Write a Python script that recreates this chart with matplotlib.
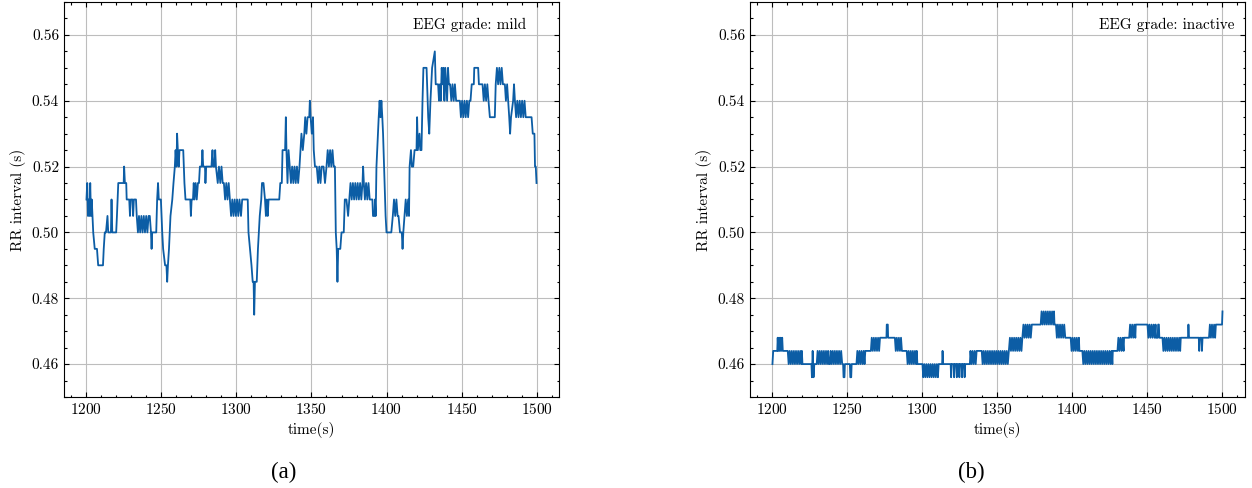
import numpy as np
import matplotlib
matplotlib.use("Agg")
import matplotlib.pyplot as plt
from matplotlib.ticker import MultipleLocator, FormatStrFormatter

# RR intervals: (time in s, RR in ms)
mild_pts = [
    (1200, 510), (1200.5, 515), (1201, 505), (1201.5, 510), (1202, 505), (1202.5, 515), (1203, 505),
    (1203.5, 510), (1204, 505), (1204.5, 500), (1205.5, 495), (1207, 495), (1207.8, 490), (1211, 490),
    (1211.5, 495), (1212.2, 500), (1213, 500), (1214, 505), (1214.5, 500), (1216.3, 500), (1216.7, 510),
    (1217.2, 500), (1219.8, 500), (1220.3, 505), (1221.2, 515), (1224.8, 515), (1225.1, 520), (1225.6, 515),
    (1226.5, 515), (1226.8, 510), (1228.5, 510), (1229, 505), (1229.5, 510), (1230.7, 510), (1231.1, 505),
    (1231.6, 510), (1233, 510), (1233.5, 505), (1234.3, 500), (1235, 505), (1235.8, 500), (1236.6, 505),
    (1237.4, 500), (1238.2, 505), (1239, 500), (1239.8, 505), (1240.6, 500), (1241.4, 505), (1242.2, 505),
    (1243, 500), (1243.4, 495), (1243.8, 500), (1246.5, 500), (1247.1, 510), (1247.7, 515), (1248.2, 510),
    (1249.6, 510), (1250.5, 500), (1251.1, 495), (1252.4, 490), (1253.3, 490), (1253.8, 485), (1254.3, 490),
    (1255, 495), (1256, 505), (1257.2, 510), (1258, 515), (1258.9, 520), (1259.4, 525), (1260, 520),
    (1260.4, 530), (1260.9, 525), (1261.5, 520), (1262, 525), (1264.5, 525), (1265.3, 515), (1266, 510),
    (1269.2, 510), (1269.6, 505), (1270.1, 510), (1271, 510), (1271.5, 515), (1272, 510), (1272.8, 515),
    (1273.5, 510), (1274.3, 515), (1275, 515), (1275.6, 520), (1276.8, 520), (1277.3, 525), (1277.8, 520),
    (1279, 520), (1279.3, 515), (1279.8, 520), (1283.3, 520), (1284, 525), (1284.5, 520), (1285.3, 520),
    (1285.8, 525), (1286.3, 520), (1287.5, 515), (1288.3, 520), (1289.2, 515), (1290, 520), (1290.8, 515),
    (1291.6, 515), (1292.4, 510), (1293.2, 515), (1294, 510), (1294.8, 515), (1295.6, 510), (1296.4, 505),
    (1297.2, 510), (1298, 505), (1298.8, 510), (1299.6, 505), (1300.4, 510), (1301.2, 505), (1302, 510),
    (1303, 505), (1303.8, 510), (1307.5, 510), (1308, 500), (1309, 495), (1310, 490), (1310.8, 485),
    (1311.4, 485), (1311.8, 475), (1312.3, 485), (1313.5, 485), (1314.3, 495), (1315.5, 505), (1316.5, 510),
    (1317, 515), (1318, 515), (1319, 510), (1319.6, 505), (1320.2, 510), (1320.8, 505), (1321.4, 510),
    (1328.5, 510), (1329.2, 515), (1330.2, 515), (1330.7, 525), (1332.4, 525), (1332.9, 535),
    (1333.3, 525), (1334, 515), (1334.7, 525), (1335.5, 520), (1336.3, 515), (1337.1, 520), (1337.9, 515),
    (1338.7, 520), (1339.5, 515), (1340.3, 520), (1341.1, 515), (1342, 520), (1343.3, 530), (1344.2, 525),
    (1345.2, 530), (1345.8, 535), (1346.6, 530), (1347.4, 535), (1348.5, 535), (1348.9, 540), (1349.4, 535),
    (1350.2, 530), (1351, 535), (1351.5, 525), (1352.3, 520), (1353.5, 520), (1354.4, 515), (1355.2, 520),
    (1356, 515), (1356.8, 520), (1358, 520), (1359, 515), (1360, 520), (1360.8, 525), (1361.6, 520),
    (1362.4, 525), (1363.2, 520), (1364, 525), (1364.8, 520), (1365.6, 520), (1366.2, 500), (1366.8, 495),
    (1367.3, 485), (1367.8, 495), (1369.2, 495), (1370, 500), (1371.5, 500), (1372.2, 510), (1373.3, 510),
    (1374.4, 505), (1375.2, 510), (1376, 515), (1376.8, 510), (1377.6, 515), (1378.4, 510), (1379.2, 515),
    (1380, 510), (1380.8, 515), (1381.6, 510), (1382.4, 515), (1383.2, 510), (1384, 515), (1384.4, 520),
    (1384.9, 515), (1385.6, 510), (1386.4, 515), (1387.2, 510), (1388, 515), (1388.8, 510), (1390.6, 510),
    (1391, 505), (1392, 505), (1392.3, 510), (1392.8, 505), (1393.3, 520), (1394.3, 530), (1394.8, 535),
    (1395.4, 540), (1396, 535), (1396.6, 540), (1397.2, 535), (1397.7, 530), (1398.7, 515), (1399.4, 505),
    (1400, 500), (1403.2, 500), (1404.2, 505), (1405, 510), (1405.8, 505), (1406.6, 510), (1407.4, 505),
    (1408, 505), (1409, 500), (1410.2, 500), (1410.7, 495), (1411.2, 500), (1412, 505), (1412.8, 510),
    (1413.6, 505), (1414.4, 510), (1415, 505), (1415.4, 520), (1416.3, 525), (1416.9, 520), (1417.8, 520),
    (1418.7, 525), (1420, 525), (1420.4, 535), (1420.9, 525), (1422, 530), (1422.5, 525), (1423.3, 525),
    (1424, 540), (1424.6, 550), (1426.7, 550), (1427.8, 535), (1428.5, 530), (1429.3, 540), (1430.4, 550),
    (1432.2, 555), (1432.8, 545), (1434.4, 545), (1435, 540), (1435.6, 545), (1436.2, 540), (1436.8, 550),
    (1437.4, 545), (1438, 550), (1438.6, 540), (1439.2, 550), (1439.8, 545), (1440.4, 540), (1441, 550),
    (1441.6, 545), (1442.4, 545), (1443.2, 540), (1444, 545), (1444.8, 540), (1445.6, 545), (1446.4, 540),
    (1448.9, 540), (1449.6, 535), (1450.4, 540), (1451.2, 535), (1452, 540), (1452.8, 535), (1453.6, 540),
    (1454.4, 535), (1455.2, 540), (1456, 540), (1456.8, 545), (1458.2, 545), (1458.5, 550), (1461.1, 550),
    (1461.6, 545), (1464, 545), (1464.8, 540), (1465.6, 545), (1466.4, 540), (1467.2, 545), (1468, 540),
    (1468.9, 535), (1472.2, 535), (1472.8, 545), (1473.6, 550), (1474.4, 545), (1475.2, 550), (1476, 545),
    (1476.8, 550), (1477.6, 545), (1478.9, 545), (1479.6, 540), (1480.4, 545), (1481.1, 540), (1481.8, 535),
    (1482.4, 530), (1483, 535), (1484.4, 540), (1485, 545), (1485.6, 540), (1486.4, 535), (1487.2, 540),
    (1488, 535), (1488.8, 540), (1489.6, 535), (1490.4, 540), (1491.2, 535), (1492, 540), (1492.8, 535),
    (1496.7, 535), (1497.5, 530), (1498.6, 530), (1499, 520), (1499.5, 520), (1500, 515),
]

inactive_pts = [
    (1200, 460), (1200.5, 464), (1203.2, 464), (1203.5, 468), (1203.9, 464), (1204.4, 468), (1204.8, 464),
    (1205.4, 468), (1205.8, 464), (1206.5, 468), (1206.9, 464), (1210.2, 464),
    (1210.8, 460), (1211.5, 464), (1212.2, 460), (1212.9, 464), (1213.6, 460), (1214.3, 464), (1215, 460),
    (1215.7, 464), (1216.4, 460), (1217.1, 464), (1217.8, 460), (1218.5, 464), (1219.2, 460), (1219.6, 464),
    (1220, 460), (1226, 460), (1226.3, 456), (1226.8, 464), (1227.4, 456), (1227.9, 460), (1229.5, 460),
    (1230.1, 464), (1230.8, 460), (1231.5, 464), (1232.2, 460), (1232.9, 464), (1233.6, 460), (1234.3, 464),
    (1235, 460), (1235.7, 464), (1236.4, 460), (1237.1, 464), (1237.6, 460), (1238.3, 460), (1238.8, 464),
    (1239.5, 460), (1240.2, 464), (1240.9, 460), (1241.6, 464), (1242.3, 460), (1243, 464), (1243.7, 460),
    (1244.4, 464), (1245.1, 460), (1245.8, 464), (1246.5, 460), (1247.1, 460), (1247.4, 456), (1248, 456),
    (1248.3, 460), (1251.6, 460), (1251.9, 456), (1252.5, 456), (1252.8, 460), (1256, 460),
    (1256.6, 464), (1257.3, 460), (1258, 464), (1258.7, 460), (1259.4, 464), (1260.1, 460), (1260.8, 464),
    (1261.4, 460), (1261.9, 464), (1265.6, 464),
    (1266.2, 468), (1266.9, 464), (1267.6, 468), (1268.3, 464), (1269, 468), (1269.7, 464), (1270.4, 468),
    (1271.1, 464), (1271.7, 468), (1276, 468), (1276.2, 472), (1276.9, 472), (1277.1, 468), (1281.6, 468),
    (1282.2, 464), (1282.9, 468), (1283.6, 464), (1284.3, 468), (1285, 464), (1285.7, 468), (1286.3, 464),
    (1289.5, 464),
    (1290.1, 460), (1290.8, 464), (1291.5, 460), (1292.2, 464), (1292.9, 460), (1293.6, 464), (1294.3, 460),
    (1295, 464), (1295.7, 460), (1296.2, 464), (1296.6, 460), (1300, 460),
    (1300.5, 456), (1301.2, 460), (1301.9, 456), (1302.6, 460), (1303.3, 456), (1304, 460), (1304.7, 456),
    (1305.4, 460), (1306.1, 456), (1306.8, 460), (1307.5, 456), (1308.2, 460), (1308.9, 456), (1309.6, 460),
    (1310.3, 456), (1310.8, 460), (1313.1, 460), (1313.4, 464), (1313.8, 460),
    (1318.8, 460), (1319.1, 456), (1319.5, 460), (1320.8, 460), (1321.1, 456), (1321.5, 460), (1322.6, 460),
    (1322.9, 456), (1323.3, 460), (1324.3, 460), (1324.6, 456), (1325, 460), (1326.1, 460), (1326.4, 456),
    (1326.8, 460), (1327.8, 460), (1328.1, 456), (1328.5, 460), (1331.6, 460),
    (1332, 464), (1332.7, 460), (1333.4, 464), (1334.1, 460), (1334.8, 464), (1335.5, 460), (1336.1, 464),
    (1339.5, 464),
    (1340.1, 460), (1340.8, 464), (1341.5, 460), (1342.2, 464), (1342.9, 460), (1343.6, 464), (1344.3, 460),
    (1345, 464), (1345.7, 460), (1346.4, 464), (1347.1, 460), (1347.8, 464), (1348.5, 460), (1349.2, 464),
    (1349.9, 460), (1350.6, 464), (1351.3, 460), (1352, 464), (1352.7, 460), (1353.4, 464), (1354.1, 460),
    (1354.8, 464), (1355.5, 460), (1356.2, 464), (1356.9, 460), (1357.6, 464),
    (1358.3, 468), (1359, 464), (1359.7, 468), (1360.4, 464), (1361.1, 468), (1361.8, 464), (1362.5, 468),
    (1363.2, 464), (1363.9, 468), (1364.6, 464), (1365.3, 468), (1366, 464), (1366.6, 468),
    (1367.3, 472), (1368, 468), (1368.7, 472), (1369.4, 468), (1370.1, 472), (1370.8, 468), (1371.5, 472),
    (1372.2, 468), (1372.9, 472), (1378.8, 472),
    (1379.4, 476), (1380.1, 472), (1380.8, 476), (1381.5, 472), (1382.2, 476), (1382.9, 472), (1383.6, 476),
    (1384.3, 472), (1385, 476), (1385.7, 472), (1386.4, 476), (1387.1, 472), (1387.7, 476), (1388, 472),
    (1389, 472),
    (1389.6, 468), (1390.3, 472), (1391, 468), (1391.7, 472), (1392.4, 468), (1393.1, 472), (1393.8, 468),
    (1394.5, 472), (1395.2, 468), (1398.8, 468),
    (1399.4, 464), (1400.1, 468), (1400.8, 464), (1401.5, 468), (1402.2, 464), (1402.9, 468), (1403.6, 464),
    (1404.3, 468), (1404.6, 464), (1406.6, 464),
    (1407.2, 460), (1407.9, 464), (1408.6, 460), (1409.3, 464), (1410, 460), (1410.7, 464), (1411.4, 460),
    (1412.1, 464), (1412.8, 460), (1413.5, 464), (1414.2, 460), (1414.9, 464), (1415.6, 460), (1416.3, 464),
    (1417, 460), (1417.7, 464), (1418.4, 460), (1419.1, 464), (1419.8, 460), (1420.5, 464), (1421.2, 460),
    (1421.9, 464), (1422.6, 460), (1423.3, 464), (1424, 460), (1424.7, 464), (1425.4, 460), (1426.1, 464),
    (1426.6, 460), (1426.9, 464), (1430, 464),
    (1430.6, 468), (1431.3, 464), (1432, 468), (1432.7, 464), (1433.4, 468), (1434.1, 464), (1434.4, 468),
    (1437.8, 468),
    (1438.4, 472), (1439.1, 468), (1439.8, 472), (1440.5, 468), (1441.2, 472), (1441.9, 468), (1442.2, 472),
    (1450, 472),
    (1450.6, 468), (1451.3, 472), (1452, 468), (1452.7, 472), (1453.4, 468), (1454.1, 472), (1454.8, 468),
    (1455.4, 472), (1455.7, 468), (1456.8, 468), (1457.1, 472), (1457.6, 472), (1457.9, 468), (1460, 468),
    (1460.6, 464), (1461.3, 468), (1462, 464), (1462.7, 468), (1463.4, 464), (1464.1, 468), (1464.8, 464),
    (1465.5, 468), (1466.2, 464), (1466.9, 468), (1467.6, 464), (1468.3, 468), (1469, 464), (1469.7, 468),
    (1470.4, 464), (1471.1, 468), (1471.8, 464), (1472.2, 468), (1477, 468), (1477.3, 472), (1477.7, 468),
    (1484.2, 468), (1484.5, 464), (1484.9, 468), (1486, 468), (1486.3, 464), (1486.7, 468), (1491, 468),
    (1491.6, 472), (1492.3, 468), (1493, 472), (1493.7, 468), (1494.4, 472), (1495.1, 468), (1495.6, 472),
    (1499.7, 472), (1500, 476),
]

grades = ["EEG grade: mild", "EEG grade: inactive"]
panel_tags = ["(a)", "(b)"]

plt.rcParams['font.family'] = 'cmr10'
plt.rcParams['axes.formatter.use_mathtext'] = True
plt.rcParams['font.size'] = 11

fig = plt.figure(figsize=(12.52, 4.88), dpi=100)
ax_a = fig.add_axes([0.0511, 0.1865, 0.3954, 0.8094])
ax_b = fig.add_axes([0.5990, 0.1865, 0.3954, 0.8094])

for ax, pts, grade in zip([ax_a, ax_b], [mild_pts, inactive_pts], grades):
    t = np.array([p[0] for p in pts])
    rr = np.array([p[1] for p in pts]) / 1000.0
    ax.plot(t, rr, color='#0C5DA5', lw=1.3, zorder=3)
    ax.set_xlim(1185, 1515)
    ax.set_ylim(0.45, 0.57)
    ax.xaxis.set_major_locator(MultipleLocator(50))
    ax.xaxis.set_minor_locator(MultipleLocator(10))
    ax.yaxis.set_major_locator(MultipleLocator(0.02))
    ax.yaxis.set_minor_locator(MultipleLocator(0.005))
    ax.yaxis.set_major_formatter(FormatStrFormatter('%.2f'))
    ax.tick_params(which='both', direction='in', top=True, right=True, width=0.8)
    ax.tick_params(which='major', length=3.5)
    ax.tick_params(which='minor', length=1.8)
    for s in ax.spines.values():
        s.set_linewidth(0.8)
    ax.grid(True, color='#bdbdbd', lw=0.8, zorder=0)
    ax.set_xlabel('time(s)')
    ax.set_ylabel('RR interval (s)')
    ax.text(0.705, 0.942, grade, transform=ax.transAxes, ha='left', va='center')

fig.text(284 / 1252, 1 - 472 / 488, panel_tags[0], ha='center', va='center',
         family='Liberation Serif', fontsize=16.5)
fig.text(971 / 1252, 1 - 472 / 488, panel_tags[1], ha='center', va='center',
         family='Liberation Serif', fontsize=16.5)

fig.savefig('out.png', dpi=100)
